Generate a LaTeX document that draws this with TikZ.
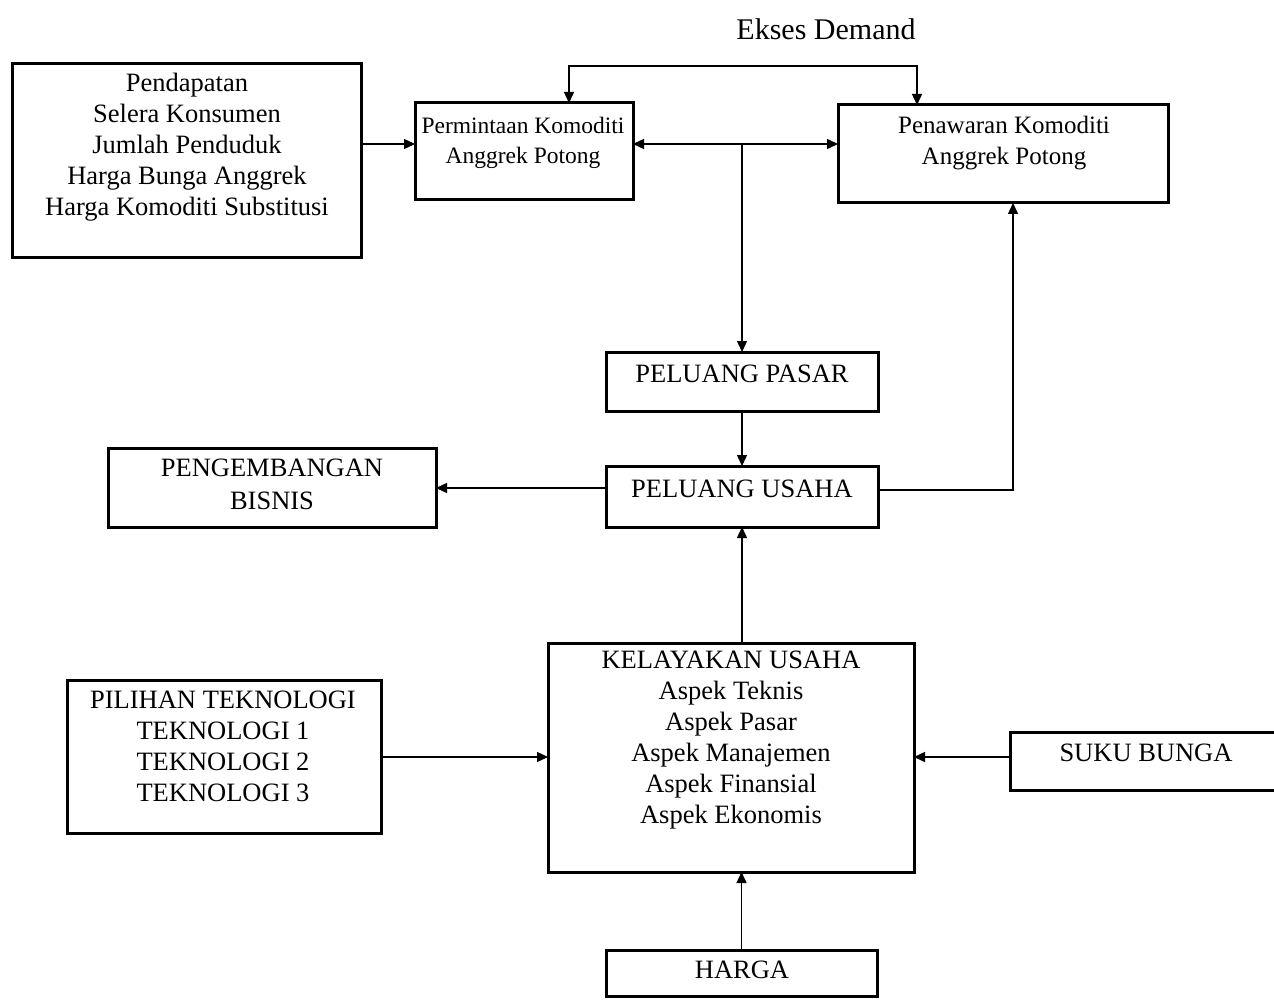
\documentclass[tikz,border=0pt]{standalone}
\usepackage{fontspec}
\setmainfont{Liberation Serif}
\usetikzlibrary{arrows.meta}
\tikzset{
  box/.style={draw, line width=3pt, inner sep=0pt, outer sep=0pt},
  txt/.style={align=center, inner sep=0pt, font=\fontsize{26.5}{31}\selectfont},
  conn/.style={line width=1.4pt},
  arr/.style={conn, -{Triangle[length=11pt,width=10pt]}},
  darr/.style={conn, {Triangle[length=11pt,width=10pt]}-{Triangle[length=11pt,width=10pt]}}
}
\begin{document}
\begin{tikzpicture}[x=1pt,y=-1pt]
\useasboundingbox[fill=white] (0,0) rectangle (1274,1000);
% boxes
\node[box, minimum width=349pt, minimum height=194pt] (L) at (186.5,161) {};
\node[box, minimum width=218pt, minimum height=97pt] (P) at (524,151.5) {};
\node[box, minimum width=330pt, minimum height=98pt] (S) at (1003,154) {};
\node[box, minimum width=272pt, minimum height=59pt] (PP) at (742,381.5) {};
\node[box, minimum width=272pt, minimum height=61pt] (PU) at (742,496.5) {};
\node[box, minimum width=328pt, minimum height=79pt] (PB) at (272,487.5) {};
\node[box, minimum width=366pt, minimum height=229pt] (K) at (731,757.5) {};
\node[box, minimum width=314pt, minimum height=153pt] (T) at (224,756.5) {};
\node[box, minimum width=280pt, minimum height=58pt] (SB) at (1150,761) {};
\node[box, minimum width=271pt, minimum height=46pt] (H) at (741.5,973) {};
% texts
\node[txt, font=\fontsize{30}{31}\selectfont] (ed) at (826,29) {Ekses Demand};
\node[txt] (Lt) at (187,147) {Pendapatan\\Selera Konsumen\\Jumlah Penduduk\\Harga Bunga Anggrek\\Harga Komoditi Substitusi};
\node[txt, font=\fontsize{23.5}{30}\selectfont] (Pt) at (523,143) {Permintaan Komoditi\\Anggrek Potong};
\node[txt, font=\fontsize{25}{31}\selectfont] (St) at (1004,143) {Penawaran Komoditi\\Anggrek Potong};
\node[txt] (PPt) at (742,374) {PELUANG PASAR};
\node[txt] (PUt) at (742,489) {PELUANG USAHA};
\node[txt, font=\fontsize{26.5}{33}\selectfont] (PBt) at (272,484) {PENGEMBANGAN\\BISNIS};
\node[txt] (Kt) at (731,740) {KELAYAKAN USAHA\\Aspek Teknis\\Aspek Pasar\\Aspek Manajemen\\Aspek Finansial\\Aspek Ekonomis};
\node[txt] (Tt) at (223,746) {PILIHAN TEKNOLOGI\\TEKNOLOGI 1\\TEKNOLOGI 2\\TEKNOLOGI 3};
\node[txt] (SBt) at (1146,753) {SUKU BUNGA};
\node[txt] (Ht) at (742,970) {HARGA};
% connector coordinates
\coordinate (tl) at (569,66);
\coordinate (tr) at (917,66);
\coordinate (mj) at (742,144);
\coordinate (rc) at (1013,490);
% connectors
\draw[arr] (L.east |- 0,144) -- (P.west |- 0,144);
\draw[darr] (tl |- P.north) -- (tl) -- (tr) -- (tr |- S.north);
\draw[darr] (P.east |- mj) -- (S.west |- mj);
\draw[arr] (mj) -- (PP.north);
\draw[arr] (PP.south) -- (PU.north);
\draw[arr] (PU.east |- rc) -- (rc) -- (rc |- S.south);
\draw[arr] (PU.west |- 0,488) -- (PB.east |- 0,488);
\draw[arr] (PU.south |- K.north) -- (PU.south);
\draw[arr] (T.east |- 0,757) -- (K.west |- 0,757);
\draw[arr] (SB.west |- 0,757) -- (K.east |- 0,757);
\draw[arr] (H.north) -- (H.north |- K.south);
\end{tikzpicture}
\end{document}
